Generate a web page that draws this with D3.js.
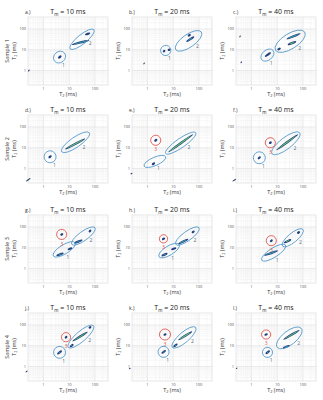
<!DOCTYPE html>
<html>
<head>
<meta charset="utf-8">
<script src="https://cdn.jsdelivr.net/npm/d3@7"></script>
<style>
body { margin: 0; background: #fff; }
text { font-family: "Open Sans", "Liberation Sans", sans-serif; }
</style>
</head>
<body>
<script>
// panel letters, mixing times and sample names
var letters = ["a", "b", "c", "d", "e", "f", "g", "h", "i", "j", "k", "l"];
var mixTimes = [10, 20, 40];
var samples = ["Sample 1", "Sample 2", "Sample 3", "Sample 4"];
var tickValues = [1, 10, 100];

// exchange regions: [T2a start, T2b start, T2a end, T2b end, half width (decades)]
var region1 = [
    [2.7, 2.8, 6.5, 7.0, 0.24], [3.5, 6.6, 7.4, 13, 0.22], [2.5, 3.3, 6.9, 9.3, 0.22],
    [1.3, 2.6, 2.5, 5.2, 0.26], [0.74, 1.3, 5.1, 3.7, 0.18], [1.45, 2.3, 2.8, 4.7, 0.26],
    [2.4, 4.0, 17, 17.5, 0.2], [2.8, 3.7, 17, 14.5, 0.2], [2.5, 2.5, 21, 13.5, 0.2],
    [3.0, 3.4, 5.9, 6.8, 0.26], [3.0, 3.6, 5.9, 7.2, 0.24], [3.1, 3.6, 5.6, 6.4, 0.22]
];
var region2 = [
    [10.8, 11, 91, 93, 0.2], [12.5, 10, 123, 72, 0.28], [8.6, 9.3, 117, 71, 0.33],
    [5.1, 6.4, 60, 53, 0.22], [5.1, 5.3, 74, 53, 0.2], [6.3, 5.1, 74, 53, 0.25],
    [12.5, 14.5, 100, 93, 0.2], [12.5, 14.5, 100, 93, 0.2], [16, 12, 100, 77, 0.2],
    [9.2, 8.3, 87, 93, 0.22], [9.2, 8.3, 74, 77, 0.22], [10, 8.3, 86, 69, 0.3]
];
var region3 = [
    null, null, null,
    null, [1.9, 21, 2.3, 25, 0.22], [4.9, 16, 5.9, 19, 0.22],
    [4.7, 41, 5.5, 47, 0.22], [3.9, 25, 4.5, 29, 0.18], [5.4, 20, 6.4, 24, 0.22],
    [6.9, 24, 8.1, 28, 0.2], [4.4, 32, 5.2, 38, 0.24], [3.4, 32, 4.0, 38, 0.2]
];

// peaks: [T2a start, T2b start, T2a end, T2b end, level]
var peaks = [
    [[4.0, 4.2, 4.6, 4.8, 1], [14, 18, 55, 28, 2], [45, 55, 60, 62, 1], [0.26, 0.95, 0.28, 1.05, 0]],
    [[4.3, 8.4, 4.5, 8.8, 1], [6.7, 9.8, 7.1, 10.2, 1], [35, 26, 60, 41, 2], [40, 48, 44, 52, 1], [0.72, 2.1, 0.76, 2.3, 0]],
    [[3.6, 5, 5.2, 6.8, 1], [25, 34, 74, 59, 2], [28, 18, 50, 24, 3], [11, 10.5, 12.5, 11.5, 1], [0.35, 42, 0.37, 46, 0], [0.39, 2.4, 0.41, 2.6, 0]],
    [[1.7, 3.5, 1.9, 3.9, 1], [7.5, 9, 38, 26, 3], [0.22, 0.25, 0.3, 0.33, 0]],
    [[1.6, 1.6, 1.8, 1.8, 1], [6.9, 6.5, 55, 42, 3], [2.0, 22, 2.2, 24, 1], [0.23, 0.55, 0.25, 0.59, 0]],
    [[1.9, 3.1, 2.1, 3.5, 1], [10, 8.3, 59, 41, 3], [5.2, 17, 5.6, 18, 1], [0.19, 0.25, 0.24, 0.3, 0]],
    [[3.5, 4.3, 5.5, 5.3, 2], [9.5, 8.5, 12, 9.5, 1], [17, 17, 30, 23, 2], [62, 62, 66, 68, 1], [4.9, 43, 5.3, 45, 1]],
    [[3.8, 4.2, 5.5, 5.2, 2], [9, 8.5, 12, 9.5, 1], [17, 16, 35, 25, 2], [57, 56, 62, 61, 1], [4.0, 26, 4.4, 28, 1]],
    [[3.4, 4.4, 10, 7, 2], [20, 18, 32, 24, 3], [64, 52, 70, 57, 1], [5.7, 21, 6.1, 23, 1]],
    [[14.5, 17.5, 48, 44, 3], [62, 75, 66, 80, 1], [11.5, 9.5, 13.5, 11, 2], [3.7, 4.2, 4.8, 5.4, 2], [7.3, 25, 7.7, 27, 1], [0.21, 0.55, 0.23, 0.6, 0]],
    [[17, 20, 50, 46, 3], [11, 9.5, 13.5, 11.5, 2], [3.8, 4.6, 4.8, 5.6, 2], [4.6, 34, 5, 36, 1], [0.2, 0.78, 0.21, 0.82, 0]],
    [[18.6, 21, 68, 54, 3], [18, 8, 28, 10, 2], [3.8, 4.4, 4.8, 5.4, 2], [3.5, 34, 3.9, 36, 1], [0.26, 0.8, 0.27, 0.83, 0]]
];

var colLeft = [28, 132, 236];
var rowTop = [17, 115, 215, 313];
var pw = 80, ph = 68;
var pxPerDecade = 23;

var svg = d3.select("body").append("svg")
    .attr("width", 323)
    .attr("height", 400);

letters.forEach(function (letter, i) {
    var row = Math.floor(i / 3), col = i % 3;
    var g = svg.append("g")
        .attr("transform", "translate(" + colLeft[col] + "," + rowTop[row] + ")");

    var x = d3.scaleLog().domain([0.25, 320]).range([0, pw]);
    var y = d3.scaleLog().domain([0.2, 380]).range([ph, 0]);

    g.append("rect")
        .attr("width", pw).attr("height", ph)
        .attr("fill", "#fff").attr("stroke", "#d8d8d8").attr("stroke-width", 0.6);

    // log grid
    var minor = [];
    [0.1, 1, 10, 100].forEach(function (k) {
        for (var m = 1; m < 10; m++) minor.push(m * k);
    });
    g.selectAll(".gx").data(minor.filter(function (v) { return v > 0.25 && v < 320; }))
        .enter().append("line")
        .attr("x1", function (d) { return x(d); }).attr("x2", function (d) { return x(d); })
        .attr("y1", 0).attr("y2", ph)
        .attr("stroke", function (d) { return tickValues.indexOf(d) >= 0 ? "#d6d6d6" : "#eeeeee"; })
        .attr("stroke-width", 0.5);
    g.selectAll(".gy").data(minor.filter(function (v) { return v > 0.2 && v < 380; }))
        .enter().append("line")
        .attr("y1", function (d) { return y(d); }).attr("y2", function (d) { return y(d); })
        .attr("x1", 0).attr("x2", pw)
        .attr("stroke", function (d) { return tickValues.indexOf(d) >= 0 ? "#d6d6d6" : "#eeeeee"; })
        .attr("stroke-width", 0.5);

    // tick labels
    g.selectAll(".tx").data(tickValues).enter().append("text")
        .attr("x", function (d) { return x(d); }).attr("y", ph + 5)
        .attr("text-anchor", "middle").attr("font-size", 4).attr("fill", "#555")
        .text(function (d) { return d; });
    g.selectAll(".ty").data(tickValues).enter().append("text")
        .attr("x", -2).attr("y", function (d) { return y(d) + 1.4; })
        .attr("text-anchor", "end").attr("font-size", 4).attr("fill", "#555")
        .text(function (d) { return d; });

    // title
    var title = g.append("text").attr("x", pw / 2).attr("y", -3)
        .attr("text-anchor", "middle").attr("font-size", 7).attr("fill", "#222");
    title.append("tspan").text("T");
    title.append("tspan").attr("font-size", 4.5).attr("dy", 1.5).text("m");
    title.append("tspan").attr("dy", -1.5).text(" = " + mixTimes[col] + " ms");

    g.append("text").attr("x", -3).attr("y", -3).attr("font-size", 5).attr("fill", "#333")
        .text(letter + ".)");

    // axis labels
    var xl = g.append("text").attr("x", pw / 2).attr("y", ph + 11)
        .attr("text-anchor", "middle").attr("font-size", 5.5).attr("fill", "#333");
    xl.append("tspan").text("T");
    xl.append("tspan").attr("font-size", 3.8).attr("dy", 1.2).text("2");
    xl.append("tspan").attr("dy", -1.2).text(" (ms)");

    var yl = g.append("text").attr("transform", "translate(-12," + (ph / 2) + ") rotate(-90)")
        .attr("text-anchor", "middle").attr("font-size", 5.5).attr("fill", "#333");
    yl.append("tspan").text("T");
    yl.append("tspan").attr("font-size", 3.8).attr("dy", 1.2).text("2");
    yl.append("tspan").attr("dy", -1.2).text(" (ms)");

    if (col === 0) {
        g.append("text").attr("transform", "translate(-19," + (ph / 2) + ") rotate(-90)")
            .attr("text-anchor", "middle").attr("font-size", 5.5).attr("fill", "#333")
            .text(samples[row]);
    }

    // peaks
    peaks[i].forEach(function (p) {
        var x1 = x(p[0]), y1 = y(p[1]), x2 = x(p[2]), y2 = y(p[3]);
        var cx = (x1 + x2) / 2, cy = (y1 + y2) / 2;
        var len = Math.hypot(x2 - x1, y2 - y1);
        var ang = Math.atan2(y2 - y1, x2 - x1) * 180 / Math.PI;
        var tr = "translate(" + cx + "," + cy + ") rotate(" + ang + ")";
        if (p[4] === 0) {
            g.append("ellipse").attr("transform", tr)
                .attr("rx", len / 2 + 0.6).attr("ry", 0.6).attr("fill", "#33466e");
            return;
        }
        g.append("ellipse").attr("transform", tr)
            .attr("rx", len / 2 + 1.1).attr("ry", 1.15)
            .attr("fill", "#22407e");
        if (p[4] >= 2) {
            g.append("ellipse").attr("transform", tr)
                .attr("rx", Math.max(len / 2 - 0.8, 0.5)).attr("ry", 0.5)
                .attr("fill", p[4] === 3 ? "#66c27a" : "#3a9cb0");
        }
    });

    // regions
    function region(r, color, label, mode) {
        if (!r) return;
        var x1 = x(r[0]), y1 = y(r[1]), x2 = x(r[2]), y2 = y(r[3]);
        var cx = (x1 + x2) / 2, cy = (y1 + y2) / 2;
        var dist = Math.hypot(x2 - x1, y2 - y1);
        var ang = Math.atan2(y2 - y1, x2 - x1);
        var b = r[4] * pxPerDecade;
        var a = Math.max(dist / 2, b);
        g.append("ellipse")
            .attr("transform", "translate(" + cx + "," + cy + ") rotate(" + (ang * 180 / Math.PI) + ")")
            .attr("rx", a).attr("ry", b)
            .attr("fill", "none").attr("stroke", color).attr("stroke-width", 0.8);
        var lx, ly;
        if (mode === 2) {
            var perp = ang + Math.PI / 2;
            lx = cx + Math.cos(perp) * (b + 3.5) + Math.cos(ang) * a * 0.25;
            ly = cy + Math.sin(perp) * (b + 3.5) + Math.sin(ang) * a * 0.25;
        } else if (mode === 1) {
            var dir = 65 * Math.PI / 180;
            lx = cx + Math.cos(dir) * (b + 4);
            ly = cy + Math.sin(dir) * (b + 4);
        } else {
            lx = cx; ly = cy + b + 4.5;
        }
        g.append("text").attr("x", lx).attr("y", ly + 1.6)
            .attr("text-anchor", "middle").attr("font-size", 5)
            .attr("fill", mode === 3 ? "#e0504a" : "#5a7088")
            .text(label);
    }
    region(region1[i], "#4f97c9", "1", 1);
    region(region2[i], "#4f97c9", "2", 2);
    region(region3[i], "#e0504a", "3", 3);
});
</script>
</body>
</html>
